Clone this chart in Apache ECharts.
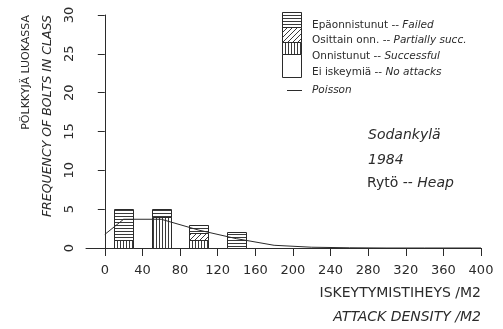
<!DOCTYPE html>
<html>
<head>
<meta charset="utf-8">
<script src="https://cdn.jsdelivr.net/npm/echarts@6/dist/echarts.min.js"></script>
<style>
  html, body { margin: 0; padding: 0; background: #fff; }
  #chart { width: 503px; height: 329px; }
</style>
</head>
<body>
<div id="chart"></div>
<script>
// Attack density classes (bin centres, attacks per m2) and bolt counts per outcome
const binCenters = [20, 60, 100, 140];
const binWidth = 20;
const successful = [1, 4, 1, 0];
const partial = [0, 0, 1, 0];
const failed = [4, 1, 1, 2];

// Poisson fit evaluated along the density axis
const poissonX = [0, 20, 60, 100, 140, 180, 220, 260, 300, 340, 400];
const poissonY = [1.75, 3.7, 3.7, 2.3, 1.2, 0.35, 0.1, 0.03, 0, 0, 0];

// Tick labels
const xTicks = [0, 40, 80, 120, 160, 200, 240, 280, 320, 360, 400];
const yTicks = [0, 5, 10, 15, 20, 25, 30];

const INK = '#2b2b2b';
const FONT = '"DejaVu Sans", sans-serif';

// Hatch fills drawn into small repeating tiles
function tile(w, h, draw) {
  const c = document.createElement('canvas');
  c.width = w; c.height = h;
  const g = c.getContext('2d');
  g.fillStyle = '#fff';
  g.fillRect(0, 0, w, h);
  g.strokeStyle = '#3a3a3a';
  g.lineWidth = 1;
  draw(g, w, h);
  return { image: c, repeat: 'repeat' };
}
const horizFill = tile(4, 3, (g, w) => { g.beginPath(); g.moveTo(0, 0.5); g.lineTo(w, 0.5); g.stroke(); });
const vertFill = tile(3, 4, (g, w, h) => { g.beginPath(); g.moveTo(0.5, 0); g.lineTo(0.5, h); g.stroke(); });
const diagFill = tile(5, 5, (g, w, h) => {
  g.beginPath();
  g.moveTo(-1, h + 1); g.lineTo(w + 1, -1);
  g.moveTo(-1 - w, h + 1); g.lineTo(1, -1);
  g.moveTo(w - 1, h + 1); g.lineTo(2 * w + 1, -1);
  g.stroke();
});

// stacked column: successful at the bottom, then partial, then failed
const stackFills = [vertFill, diagFill, horizFill];
function renderStack(params, api) {
  const x = api.value(0);
  const counts = [api.value(1), api.value(2), api.value(3)];
  const children = [];
  let base = 0;
  counts.forEach((n, k) => {
    if (n <= 0) return;
    const p0 = api.coord([x - binWidth / 2, base + n]);
    const p1 = api.coord([x + binWidth / 2, base]);
    children.push({
      type: 'rect',
      shape: { x: Math.round(p0[0]) + 0.5, y: Math.round(p0[1]) + 0.5, width: Math.round(p1[0] - p0[0]), height: Math.round(p1[1] - p0[1]) },
      style: { fill: stackFills[k], stroke: INK, lineWidth: 1 }
    });
    base += n;
  });
  return { type: 'group', children };
}

const chart = echarts.init(document.getElementById('chart'), null, { renderer: 'canvas' });

const legendX = 282, legendW = 19;
const legendRows = [
  { y: 25, a: 'Epäonnistunut -- ', b: 'Failed' },
  { y: 40.5, a: 'Osittain onn. -- ', b: 'Partially succ.' },
  { y: 56, a: 'Onnistunut -- ', b: 'Successful' },
  { y: 72.5, a: 'Ei iskeymiä -- ', b: 'No attacks' }
];

const graphics = [
  // legend column of fills
  { type: 'rect', shape: { x: legendX + 0.5, y: 12.5, width: legendW, height: 15 }, style: { fill: horizFill, stroke: INK, lineWidth: 1 } },
  { type: 'rect', shape: { x: legendX + 0.5, y: 27.5, width: legendW, height: 15 }, style: { fill: diagFill, stroke: INK, lineWidth: 1 } },
  { type: 'rect', shape: { x: legendX + 0.5, y: 42.5, width: legendW, height: 12 }, style: { fill: vertFill, stroke: INK, lineWidth: 1 } },
  { type: 'rect', shape: { x: legendX + 0.5, y: 54.5, width: legendW, height: 23 }, style: { fill: '#fff', stroke: INK, lineWidth: 1 } },
  { type: 'line', shape: { x1: 287, y1: 90.5, x2: 302, y2: 90.5 }, style: { stroke: INK, lineWidth: 1 } },
  {
    type: 'text', x: 312, y: 90,
    style: { text: 'Poisson', font: 'italic 10.5px ' + FONT, fill: INK, verticalAlign: 'middle' }
  },
  // axis titles
  {
    type: 'text', x: 26, y: 15, rotation: Math.PI / 2,
    style: { text: 'PÖLKKYJÄ LUOKASSA', font: '11px ' + FONT, fill: INK, align: 'right', verticalAlign: 'middle' }
  },
  {
    type: 'text', x: 48, y: 15, rotation: Math.PI / 2,
    style: { text: 'FREQUENCY OF BOLTS IN CLASS', font: 'italic 12.5px ' + FONT, fill: INK, align: 'right', verticalAlign: 'middle' }
  },
  {
    type: 'text', x: 481, y: 293,
    style: { text: 'ISKEYTYMISTIHEYS /M2', font: '14px ' + FONT, fill: INK, align: 'right', verticalAlign: 'middle' }
  },
  {
    type: 'text', x: 481, y: 317,
    style: { text: 'ATTACK DENSITY /M2', font: 'italic 14px ' + FONT, fill: INK, align: 'right', verticalAlign: 'middle' }
  },
  // site annotation
  {
    type: 'text', x: 368, y: 135,
    style: { text: 'Sodankylä', font: 'italic 14px ' + FONT, fill: INK, verticalAlign: 'middle' }
  },
  {
    type: 'text', x: 368, y: 160,
    style: { text: '1984', font: 'italic 14px ' + FONT, fill: INK, verticalAlign: 'middle' }
  },
  {
    type: 'text', x: 367, y: 183,
    style: {
      text: '{n|Rytö -- }{i|Heap}', verticalAlign: 'middle', fill: INK,
      rich: {
        n: { font: '14px ' + FONT, fill: INK },
        i: { font: 'italic 14px ' + FONT, fill: INK }
      }
    }
  }
];
legendRows.forEach(r => {
  graphics.push({
    type: 'text', x: 312, y: r.y,
    style: {
      text: '{n|' + r.a + '}{i|' + r.b + '}', verticalAlign: 'middle', fill: INK,
      rich: {
        n: { font: '10.5px ' + FONT, fill: INK },
        i: { font: 'italic 10.5px ' + FONT, fill: INK }
      }
    }
  });
});

chart.setOption({
  animation: false,
  backgroundColor: '#fff',
  grid: { left: 86, right: 22, top: 15, bottom: 81, containLabel: false },
  xAxis: [
    {
      // baseline
      type: 'value', min: -20, max: 400,
      axisLine: { show: true, onZero: false, lineStyle: { color: INK, width: 1 } },
      axisTick: { show: false }, axisLabel: { show: false }, splitLine: { show: false }
    },
    {
      // detached tick scale under the baseline
      type: 'value', min: -20, max: 400, position: 'bottom', offset: 4,
      axisLine: { show: false },
      axisTick: { show: true, length: 8, inside: false, customValues: xTicks, lineStyle: { color: INK, width: 1 } },
      axisLabel: { show: true, customValues: xTicks, margin: 12, color: INK, fontSize: 13, fontFamily: FONT },
      splitLine: { show: false }
    }
  ],
  yAxis: {
    type: 'value', min: 0, max: 30, interval: 5,
    axisLine: { show: true, lineStyle: { color: INK, width: 1 } },
    axisTick: { show: true, length: 7, lineStyle: { color: INK, width: 1 } },
    axisLabel: { rotate: 90, margin: 10, color: INK, fontSize: 13, fontFamily: FONT },
    splitLine: { show: false }
  },
  series: [
    {
      name: 'Bolts', type: 'custom', xAxisIndex: 0,
      data: binCenters.map((x, i) => [x, successful[i], partial[i], failed[i]]),
      encode: { x: 0, y: [1, 2, 3] },
      renderItem: renderStack,
      silent: true, z: 2
    },
    {
      name: 'Poisson', type: 'line', xAxisIndex: 0,
      data: poissonX.map((x, i) => [x, poissonY[i]]),
      showSymbol: false, smooth: false,
      lineStyle: { color: INK, width: 1 },
      silent: true, z: 5
    }
  ],
  graphic: graphics
});
</script>
</body>
</html>
